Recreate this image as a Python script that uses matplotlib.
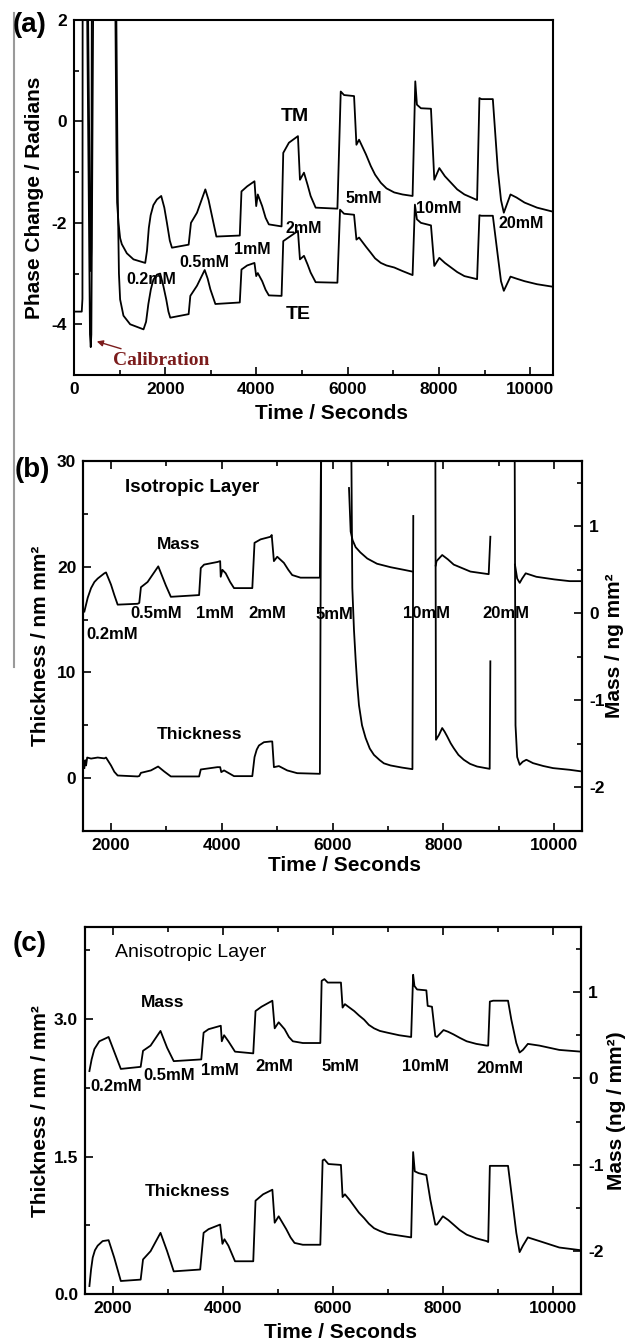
"""Three stacked panels: phase change (a), isotropic layer (b), anisotropic layer (c)."""
import numpy as np
import matplotlib
matplotlib.use("Agg")
import matplotlib.pyplot as plt
from matplotlib.lines import Line2D
from matplotlib.ticker import MultipleLocator, FormatStrFormatter

NAN = np.nan

# ---- panel (a): phase change, TM and TE (values above 2 are off scale) ----
tm_t = [0, 280, 300, 355, 367, 380, 392, 900, 930, 945, 975, 1011, 1048, 1158, 1304, 1561,
        1600, 1640, 1680, 1740, 1817, 1912, 1980, 2037, 2100, 2147, 2513, 2564, 2696, 2879,
        2950, 3026, 3121, 3634, 3671, 3796, 3956, 3994, 4029, 4125, 4200, 4271, 4550, 4587,
        4711, 4909, 4953, 5041, 5120, 5187, 5297, 5774, 5847, 5920, 6139, 6191, 6249, 6400,
        6506, 6600, 6726, 6850, 7019, 7200, 7422, 7481, 7517, 7605, 7825, 7898, 8008, 8130,
        8265, 8400, 8558, 8836, 8887, 8931, 9181, 9290, 9360, 9422, 9568, 9700, 9876, 10150,
        10500]
tm_v = [3, 3, 3, -2.5, -2.95, -2.5, 3, 3, -0.5, -1.6, -2.0, -2.3, -2.42, -2.6, -2.72, -2.79,
        -2.55, -2.1, -1.85, -1.65, -1.54, -1.47, -1.7, -2.0, -2.35, -2.49, -2.43, -2.0, -1.8,
        -1.34, -1.55, -1.87, -2.27, -2.25, -1.38, -1.28, -1.18, -1.67, -1.44, -1.67, -1.9,
        -2.03, -2.07, -0.62, -0.42, -0.29, -1.15, -1.01, -1.25, -1.47, -1.70, -1.72, 0.59, 0.52,
        0.50, -0.46, -0.36, -0.65, -0.88, -1.05, -1.21, -1.32, -1.40, -1.44, -1.47, 0.79, 0.33,
        0.26, 0.25, -1.15, -0.92, -1.08, -1.21, -1.34, -1.44, -1.55, 0.46, 0.44, 0.44, -0.95,
        -1.55, -1.80, -1.44, -1.50, -1.60, -1.70, -1.78]

te_t = [0, 170, 185, 190, 280, 350, 367, 380, 425, 920, 960, 985, 1011, 1084, 1231, 1524,
        1580, 1630, 1685, 1740, 1820, 1890, 1960, 2022, 2070, 2110, 2513, 2550, 2696, 2865,
        2930, 2989, 3099, 3634, 3671, 3796, 3956, 3994, 4029, 4125, 4200, 4271, 4550, 4587,
        4748, 4909, 4953, 5041, 5120, 5187, 5297, 5774, 5832, 5920, 6139, 6191, 6249, 6400,
        6506, 6600, 6726, 6850, 7019, 7200, 7422, 7473, 7517, 7605, 7825, 7898, 8008, 8130,
        8265, 8400, 8558, 8836, 8887, 8931, 9181, 9290, 9360, 9422, 9568, 9700, 9876, 10150,
        10500]
te_v = [-3.75, -3.75, -3.5, 3, 3, -4.2, -4.45, -4.2, 3, 3, -1.5, -3.0, -3.51, -3.83, -4.0, -4.1,
        -3.95, -3.6, -3.31, -3.12, -3.02, -3.0, -3.25, -3.51, -3.75, -3.87, -3.8, -3.44, -3.24,
        -2.93, -3.1, -3.31, -3.6, -3.57, -2.92, -2.84, -2.79, -3.05, -2.99, -3.15, -3.32, -3.43,
        -3.44, -2.36, -2.26, -2.16, -2.72, -2.65, -2.82, -2.98, -3.17, -3.18, -1.74, -1.82,
        -1.84, -2.33, -2.29, -2.47, -2.59, -2.70, -2.79, -2.84, -2.88, -2.95, -3.03, -1.64,
        -1.93, -2.0, -2.05, -2.85, -2.69, -2.79, -2.88, -2.97, -3.05, -3.11, -1.85, -1.86,
        -1.86, -2.65, -3.15, -3.34, -3.06, -3.10, -3.15, -3.21, -3.26]

# ---- panel (b): isotropic layer (thickness left axis, mass right axis) ----
thk_b_t = [1519, 1535, 1550, 1570, 1640, 1760, 1880, 1910, 2000, 2060, 2120, 2480, 2510, 2540,
           2720, 2850, 2960, 3080, 3590, 3620, 3920, 3970, 3990, 4040, 4220, 4550, 4590, 4630,
           4670, 4760, 4880, 4910, 4940, 5030, 5180, 5360, 5770, 5800, 6325, 6355, 6385, 6415,
           6445, 6475, 6530, 6595, 6670, 6745, 6850, 6925, 7045, 7250, 7440, 7455, 7456, 7850,
           7865, 7920, 7977, 8020, 8067, 8130, 8185, 8270, 8366, 8480, 8606, 8834, 8846, 8847,
           9280, 9300, 9330, 9376, 9430, 9496, 9616, 9800, 9976, 10277, 10500]
thk_b_v = [0.95, 1.7, 1.2, 1.95, 1.85, 1.95, 1.87, 1.95, 1.2, 0.6, 0.25, 0.16, 0.2, 0.5,
           0.73, 1.1, 0.63, 0.16, 0.16, 0.82, 1.04, 1.04, 0.57, 0.73, 0.19, 0.19, 1.99, 2.7,
           3.09, 3.4, 3.47, 3.47, 1.04, 1.14, 0.73, 0.47, 0.41, 40, 40, 18.0, 14.0, 11.2,
           8.8, 6.9, 5.0, 3.8, 2.8, 2.2, 1.7, 1.4, 1.2, 1.0, 0.85, 24.8, NAN, 40,
           3.63, 4.1, 4.74, 4.4, 3.95, 3.3, 2.84, 2.2, 1.74, 1.35, 1.1, 0.88, 11.05, NAN,
           40, 5.0, 2.0, 1.26, 1.55, 1.74, 1.42, 1.15, 0.95, 0.79, 0.63]

mass_b_t = [1519, 1580, 1640, 1700, 1760, 1880, 1910, 2000, 2060, 2120, 2480, 2510, 2540, 2660,
            2853, 2990, 3080, 3590, 3620, 3680, 3920, 3970, 3980, 4010, 4070, 4150, 4220, 4550,
            4590, 4700, 4880, 4900, 4940, 5000, 5120, 5200, 5270, 5420, 5770, 5800, 5801, 6295,
            6325, 6360, 6415, 6500, 6625, 6800, 7046, 7285, 7440, 7441, 7860, 7875, 7977, 8080,
            8185, 8486, 8816, 8846, 8847, 9290, 9330, 9376, 9420, 9484, 9676, 10000, 10277, 10500]
mass_b_v = [0.02, 0.18, 0.29, 0.36, 0.40, 0.46, 0.47, 0.33, 0.21, 0.10, 0.11, 0.12, 0.30, 0.36,
            0.54, 0.32, 0.19, 0.21, 0.52, 0.56, 0.59, 0.60, 0.42, 0.50, 0.46, 0.36, 0.29, 0.29,
            0.81, 0.85, 0.88, 0.90, 0.60, 0.65, 0.58, 0.50, 0.44, 0.41, 0.41, 2.5, NAN, 1.44,
            0.94, 0.84, 0.76, 0.70, 0.63, 0.57, 0.53, 0.50, 0.48, NAN, 0.55, 0.60, 0.67, 0.62,
            0.56, 0.48, 0.45, 0.88, NAN, 0.56, 0.40, 0.35, 0.40, 0.46, 0.42, 0.39, 0.37, 0.37]

# ---- panel (c): anisotropic layer ----
thk_c_t = [1580, 1610, 1640, 1680, 1730, 1820, 1928, 2030, 2150, 2510, 2553, 2690, 2870, 2990,
           3110, 3590, 3652, 3742, 3952, 3994, 4030, 4102, 4222, 4553, 4594, 4732, 4900, 4942,
           5014, 5152, 5230, 5302, 5452, 5770, 5812, 5844, 5916, 6144, 6174, 6216, 6300, 6385,
           6470, 6565, 6650, 6745, 6850, 6985, 7200, 7418, 7454, 7484, 7556, 7694, 7766, 7856,
           7886, 7994, 8090, 8186, 8300, 8426, 8600, 8786, 8816, 8846, 8906, 9176, 9236, 9326,
           9386, 9446, 9536, 9746, 10106, 10500]
thk_c_v = [0.09, 0.27, 0.40, 0.48, 0.53, 0.58, 0.59, 0.40, 0.145, 0.16, 0.38, 0.47, 0.67, 0.47,
           0.25, 0.27, 0.67, 0.71, 0.76, 0.55, 0.60, 0.53, 0.36, 0.36, 1.02, 1.09, 1.14, 0.78,
           0.85, 0.71, 0.62, 0.56, 0.54, 0.54, 1.46, 1.47, 1.42, 1.41, 1.06, 1.09, 1.03, 0.96,
           0.89, 0.83, 0.77, 0.72, 0.69, 0.66, 0.64, 0.62, 1.55, 1.34, 1.32, 1.30, 1.03, 0.76,
           0.76, 0.85, 0.81, 0.76, 0.70, 0.65, 0.61, 0.58, 0.57, 1.40, 1.40, 1.40, 1.11, 0.67,
           0.46, 0.53, 0.62, 0.58, 0.51, 0.48]

mass_c_t = [1580, 1620, 1670, 1760, 1928, 2060, 2150, 2510, 2553, 2690, 2870, 2990, 3110, 3610,
            3652, 3742, 3964, 3982, 4024, 4102, 4222, 4553, 4594, 4702, 4900, 4942, 5014, 5122,
            5200, 5272, 5452, 5770, 5794, 5844, 5904, 6144, 6174, 6216, 6300, 6385, 6470, 6565,
            6650, 6745, 6850, 6985, 7200, 7418, 7454, 7478, 7526, 7694, 7718, 7796, 7856, 7886,
            8006, 8090, 8186, 8300, 8426, 8600, 8786, 8816, 8846, 8906, 9176, 9236, 9326, 9386,
            9446, 9536, 9746, 10106, 10500]
mass_c_v = [0.085, 0.22, 0.34, 0.43, 0.48, 0.26, 0.11, 0.134, 0.32, 0.38, 0.55, 0.355, 0.20, 0.22,
            0.53, 0.57, 0.61, 0.43, 0.50, 0.43, 0.31, 0.29, 0.78, 0.83, 0.90, 0.58, 0.65, 0.57,
            0.48, 0.43, 0.41, 0.41, 1.13, 1.15, 1.11, 1.11, 0.82, 0.86, 0.82, 0.78, 0.73, 0.68,
            0.62, 0.58, 0.55, 0.53, 0.50, 0.48, 1.20, 1.07, 1.03, 1.02, 0.84, 0.83, 0.49, 0.48,
            0.56, 0.54, 0.51, 0.47, 0.43, 0.40, 0.38, 0.38, 0.89, 0.90, 0.90, 0.68, 0.41, 0.30,
            0.33, 0.40, 0.38, 0.33, 0.31]

conc = ["0.2mM", "0.5mM", "1mM", "2mM", "5mM", "10mM", "20mM"]

plt.rcParams["font.family"] = ["Liberation Sans", "DejaVu Sans"]
plt.rcParams["font.weight"] = "bold"
plt.rcParams["axes.unicode_minus"] = False

W, H = 630, 1341
fig = plt.figure(figsize=(W / 100, H / 100), dpi=100)


def box(l, t, r, b):
    return [l / W, 1 - b / H, (r - l) / W, (b - t) / H]


def style(ax, top=False, right=False):
    for s in ax.spines.values():
        s.set_linewidth(1.5)
    ax.tick_params(which="both", direction="in", top=top, right=right, width=1.2,
                   labelsize=12.5, pad=5)
    ax.tick_params(which="major", length=6)
    ax.tick_params(which="minor", length=3.5)
    for lab in ax.get_xticklabels() + ax.get_yticklabels():
        lab.set_fontweight("bold")


LW = 1.3
TXT = dict(ha="center", va="center", fontweight="bold")

# ---------------- (a) ----------------
ax = fig.add_axes(box(74, 20, 553, 375))
ax.plot(tm_t, tm_v, color="k", lw=LW)
ax.plot(te_t, te_v, color="k", lw=LW)
ax.set_xlim(0, 10500)
ax.set_ylim(-5, 2)
ax.xaxis.set_major_locator(MultipleLocator(2000))
ax.xaxis.set_minor_locator(MultipleLocator(1000))
ax.yaxis.set_major_locator(MultipleLocator(2))
ax.yaxis.set_minor_locator(MultipleLocator(1))
style(ax)
ax.set_xlabel("Time / Seconds", fontsize=15, fontweight="bold")
ax.set_ylabel("Phase Change / Radians", fontsize=15, fontweight="bold")
ax.xaxis.set_label_coords(0.537, -0.082)
ax.yaxis.set_label_coords(-0.063, 0.5)
ax.text(4838, 0.09, "TM", fontsize=14, **TXT)
ax.text(4915, -3.8, "TE", fontsize=14, **TXT)
for lab, x, y in zip(conc, [1693, 2849, 3912, 5040, 6350, 7990, 9800],
                     [-3.11, -2.79, -2.52, -2.12, -1.52, -1.72, -2.01]):
    ax.text(x, y, lab, fontsize=11.5, **TXT)
ax.annotate("Calibration", xy=(470, -4.33), xytext=(1912, -4.72), ha="center", va="center",
            fontsize=14, fontweight="bold", color="#7b1c1c",
            family=["Liberation Serif", "DejaVu Serif"],
            arrowprops=dict(arrowstyle="-|>", color="#7b1c1c", lw=1.0,
                            mutation_scale=9, shrinkA=2, shrinkB=1))

# ---------------- (b) ----------------
ax = fig.add_axes(box(83.3, 461, 582, 831))
ax.plot(thk_b_t, thk_b_v, color="k", lw=LW)
ax.set_xlim(1500, 10500)
ax.set_ylim(-5, 30)
ax.xaxis.set_major_locator(MultipleLocator(2000))
ax.xaxis.set_minor_locator(MultipleLocator(1000))
ax.yaxis.set_major_locator(MultipleLocator(10))
ax.yaxis.set_minor_locator(MultipleLocator(5))
style(ax, top=True)
ax.set_xlabel("Time / Seconds", fontsize=15, fontweight="bold")
ax.set_ylabel("Thickness / nm mm²", fontsize=15, fontweight="bold")
ax.xaxis.set_label_coords(0.523, -0.068)
ax.yaxis.set_label_coords(-0.067, 0.5)
ax.text(3472, 27.5, "Isotropic Layer", fontsize=13.5, **TXT)
ax.text(3213, 22.1, "Mass", fontsize=12.5, **TXT)
ax.text(3591, 4.17, "Thickness", fontsize=12.5, **TXT)
for lab, x, y in zip(conc, [2030, 2811, 3868, 4824, 6036, 7690, 9118],
                     [13.6, 15.55, 15.55, 15.55, 15.5, 15.55, 15.55]):
    ax.text(x, y, lab, fontsize=12, **TXT)
ax2 = ax.twinx()
ax2.plot(mass_b_t, mass_b_v, color="k", lw=LW)
ax2.set_ylim(-2.5, 1.75)
ax2.yaxis.set_major_locator(MultipleLocator(1))
ax2.yaxis.set_minor_locator(MultipleLocator(0.5))
style(ax2, right=True)
ax2.tick_params(axis="y", which="both", left=False, right=True)
ax2.set_ylabel("Mass / ng mm²", fontsize=15, fontweight="bold")
ax2.yaxis.set_label_coords(1.046, 0.5)

# ---------------- (c) ----------------
ax = fig.add_axes(box(85, 927.3, 581, 1294.3))
ax.plot(thk_c_t, thk_c_v, color="k", lw=LW)
ax.set_xlim(1500, 10500)
ax.set_ylim(0, 4.0)
ax.xaxis.set_major_locator(MultipleLocator(2000))
ax.xaxis.set_minor_locator(MultipleLocator(1000))
ax.yaxis.set_major_locator(MultipleLocator(1.5))
ax.yaxis.set_minor_locator(MultipleLocator(0.75))
ax.yaxis.set_major_formatter(FormatStrFormatter("%.1f"))
style(ax, top=True)
ax.set_xlabel("Time / Seconds", fontsize=15, fontweight="bold")
ax.set_ylabel("Thickness / nm / mm²", fontsize=15, fontweight="bold")
ax.xaxis.set_label_coords(0.516, -0.078)
ax.yaxis.set_label_coords(-0.071, 0.5)
ax.text(3411, 3.73, "Anisotropic Layer", fontsize=14, ha="center", va="center",
        fontweight="normal")
ax.text(2913, 3.175, "Mass", fontsize=12.5, **TXT)
ax.text(3351, 1.12, "Thickness", fontsize=12.5, **TXT)
for lab, x, y in zip(conc, [2060, 3032, 3951, 4943, 6140, 7676, 9027],
                     [2.26, 2.39, 2.44, 2.48, 2.48, 2.48, 2.46]):
    ax.text(x, y, lab, fontsize=12, **TXT)
ax2 = ax.twinx()
ax2.plot(mass_c_t, mass_c_v, color="k", lw=LW)
ax2.set_ylim(-2.5, 1.75)
ax2.yaxis.set_major_locator(MultipleLocator(1))
ax2.yaxis.set_minor_locator(MultipleLocator(0.5))
style(ax2, right=True)
ax2.tick_params(axis="y", which="both", left=False, right=True)
ax2.set_ylabel("Mass (ng / mm²)", fontsize=15, fontweight="bold")
ax2.yaxis.set_label_coords(1.052, 0.5)

# panel letters and the grey rule at the left edge
for lab, x, y in [("(a)", 30, 25), ("(b)", 32, 470), ("(c)", 30, 944)]:
    fig.text(x / W, 1 - y / H, lab, fontsize=20, fontweight="bold", ha="center", va="center")
fig.add_artist(Line2D([14 / W, 14 / W], [1 - 13 / H, 1 - 667 / H], color="#9a9a9a", lw=1.5))

fig.savefig("out.png", dpi=100)
